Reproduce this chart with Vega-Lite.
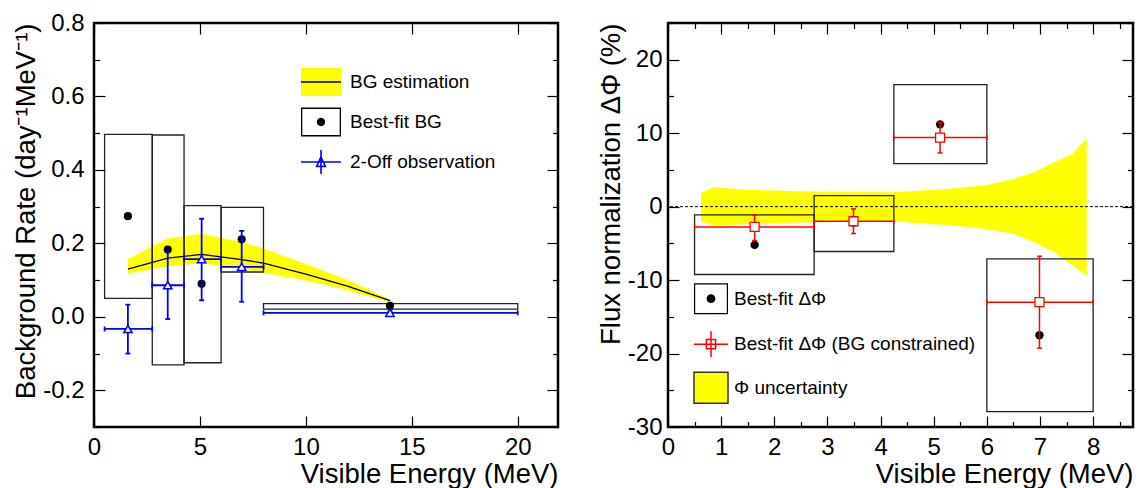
{
  "$schema": "https://vega.github.io/schema/vega-lite/v6.json",
  "background": "white",
  "padding": {"left": 11, "top": 9, "right": 0, "bottom": 0},
  "spacing": 36,
  "config": {
    "font": "Liberation Sans",
    "view": {"stroke": "black", "strokeWidth": 2.5},
    "axis": {
      "domain": false, "grid": false, "labelFont": "Liberation Sans", "labelFontSize": 24, "labelColor": "black",
      "titleFont": "Liberation Sans", "titleFontSize": 27.5, "titleFontWeight": "normal", "titleColor": "black",
      "tickColor": "black", "tickWidth": 1.2, "tickSize": 0, "labelFlush": false, "labelOverlap": false
    },
    "legend": {"labelFont": "Liberation Sans", "labelColor": "black", "labelFontSize": 19, "labelLimit": 500, "padding": 0}
  },
  "datasets": {
    "leftBand": [
      {"E": 1.6, "lo": 0.118, "hi": 0.157, "bg": 0.130},
      {"E": 3.48, "lo": 0.137, "hi": 0.213, "bg": 0.160},
      {"E": 5.08, "lo": 0.146, "hi": 0.226, "bg": 0.170},
      {"E": 6.97, "lo": 0.131, "hi": 0.204, "bg": 0.156},
      {"E": 8.0, "lo": 0.120, "hi": 0.186, "bg": 0.146},
      {"E": 10.0, "lo": 0.099, "hi": 0.143, "bg": 0.116},
      {"E": 12.0, "lo": 0.072, "hi": 0.100, "bg": 0.083},
      {"E": 13.97, "lo": 0.040, "hi": 0.048, "bg": 0.044}
    ],
    "leftBox": [
      {"E": 1.6, "fit": 0.274, "x1": 0.5, "x2": 2.75, "y1": 0.050, "y2": 0.497},
      {"E": 3.48, "fit": 0.183, "x1": 2.75, "x2": 4.25, "y1": -0.131, "y2": 0.495},
      {"E": 5.08, "fit": 0.090, "x1": 4.25, "x2": 6.0, "y1": -0.125, "y2": 0.303},
      {"E": 6.97, "fit": 0.211, "x1": 6.0, "x2": 8.0, "y1": 0.122, "y2": 0.298},
      {"E": 13.97, "fit": 0.030, "x1": 8.0, "x2": 20.0, "y1": 0.021, "y2": 0.036}
    ],
    "twoOff": [
      {"E": 1.6, "v": -0.033, "lo": -0.100, "hi": 0.033, "xlo": 0.5, "xhi": 2.75},
      {"E": 3.48, "v": 0.086, "lo": -0.006, "hi": 0.177, "xlo": 2.75, "xhi": 4.25},
      {"E": 5.08, "v": 0.157, "lo": 0.045, "hi": 0.267, "xlo": 4.25, "xhi": 6.0},
      {"E": 6.97, "v": 0.136, "lo": 0.041, "hi": 0.234, "xlo": 6.0, "xhi": 8.0},
      {"E": 13.97, "v": 0.011, "lo": 0.007, "hi": 0.015, "xlo": 8.0, "xhi": 20.0}
    ],
    "rightBand": [
      {"E": 0.62, "lo": -2.03, "hi": 1.86},
      {"E": 0.85, "lo": -2.57, "hi": 2.64},
      {"E": 1.6, "lo": -2.35, "hi": 2.27},
      {"E": 2.74, "lo": -2.12, "hi": 2.05},
      {"E": 4.25, "lo": -2.03, "hi": 1.96},
      {"E": 5.26, "lo": -2.49, "hi": 2.41},
      {"E": 6.0, "lo": -3.03, "hi": 2.95},
      {"E": 6.51, "lo": -3.71, "hi": 3.77},
      {"E": 6.89, "lo": -4.84, "hi": 4.68},
      {"E": 7.27, "lo": -6.2, "hi": 6.04},
      {"E": 7.61, "lo": -8.01, "hi": 7.17},
      {"E": 7.88, "lo": -9.37, "hi": 9.31}
    ],
    "rightFit": [
      {"E": 1.63, "fit": -5.21, "x1": 0.5, "x2": 2.75, "y1": -9.24, "y2": -1.13, "c": -2.76, "clo": -4.61, "chi": -1.13},
      {"E": 3.49, "fit": -2.16, "x1": 2.75, "x2": 4.25, "y1": -6.11, "y2": 1.51, "c": -1.99, "clo": -3.66, "chi": -0.31},
      {"E": 5.12, "fit": 11.2, "x1": 4.25, "x2": 6.0, "y1": 5.86, "y2": 16.6, "c": 9.40, "clo": 7.31, "chi": 11.48},
      {"E": 6.99, "fit": -17.5, "x1": 6.0, "x2": 8.0, "y1": -27.9, "y2": -7.12, "c": -13.0, "clo": -19.27, "chi": -6.75}
    ],
    "zero": [{"ref": 0}]
  },
  "hconcat": [
    {
      "width": 464,
      "height": 404,
      "resolve": {"axis": {"x": "independent", "y": "independent"}, "scale": {"shape": "independent", "fill": "independent", "stroke": "independent"}},
      "layer": [
        {
          "data": {"name": "leftBand"},
          "mark": {"type": "area", "color": "#ffff00", "opacity": 1},
          "encoding": {
            "x": {"field": "E", "type": "quantitative", "scale": {"domain": [0, 21.9], "nice": false, "zero": false},
              "axis": {"orient": "bottom", "values": [0, 5, 10, 15, 20], "title": "Visible Energy (MeV)", "titleAnchor": "end", "titleAlign": "right", "titlePadding": 1, "labelPadding": 8,
                "encoding": {"ticks": {"y2": {"value": -11}}}}},
            "y": {"field": "lo", "type": "quantitative", "scale": {"domain": [-0.3, 0.8], "nice": false, "zero": false},
              "axis": {"orient": "left", "values": [-0.3, -0.2, -0.1, 0, 0.1, 0.2, 0.3, 0.4, 0.5, 0.6, 0.7, 0.8], "title": "Background Rate (day⁻¹MeV⁻¹)", "titleAnchor": "end", "titlePadding": 2, "labelPadding": 10,
                "labelExpr": "abs(datum.value*5-round(datum.value*5))<0.001 ? (datum.value < -0.001 ? '-' : '') + format(abs(datum.value), '.1f') : ''",
                "encoding": {"ticks": {"x2": {"value": {"expr": "abs(datum.value*5-round(datum.value*5))<0.001 ? 11 : 5.5"}}}}}},
            "y2": {"field": "hi"}
          }
        },
        {
          "data": {"name": "leftBand"},
          "mark": {"type": "line", "color": "black", "strokeWidth": 1.3},
          "encoding": {
            "x": {"field": "E", "type": "quantitative", "axis": null},
            "y": {"field": "bg", "type": "quantitative", "axis": null}
          }
        },
        {
          "data": {"name": "leftBox"},
          "mark": {"type": "rect", "filled": false, "stroke": "#222222", "strokeWidth": 1.3},
          "encoding": {
            "x": {"field": "x1", "type": "quantitative",
              "axis": {"orient": "top", "values": [0, 5, 10, 15, 20], "labels": false, "title": null, "encoding": {"ticks": {"y2": {"value": 11}}}}},
            "x2": {"field": "x2"},
            "y": {"field": "y1", "type": "quantitative",
              "axis": {"orient": "right", "values": [-0.3, -0.2, -0.1, 0, 0.1, 0.2, 0.3, 0.4, 0.5, 0.6, 0.7, 0.8], "labels": false, "title": null,
                "encoding": {"ticks": {"x2": {"value": {"expr": "abs(datum.value*5-round(datum.value*5))<0.001 ? -11 : -5.5"}}}}}},
            "y2": {"field": "y2"}
          }
        },
        {
          "data": {"name": "leftBox"},
          "mark": {"type": "point", "shape": "circle", "filled": true, "color": "black", "size": 66, "opacity": 1},
          "encoding": {
            "x": {"field": "E", "type": "quantitative", "axis": null},
            "y": {"field": "fit", "type": "quantitative", "axis": null}
          }
        },
        {
          "data": {"name": "twoOff"},
          "mark": {"type": "rule", "color": "#0000ff", "strokeWidth": 1.8},
          "encoding": {
            "x": {"field": "E", "type": "quantitative", "axis": null},
            "y": {"field": "lo", "type": "quantitative", "axis": null},
            "y2": {"field": "hi"}
          }
        },
        {
          "data": {"name": "twoOff"},
          "mark": {"type": "rule", "color": "#0000ff", "strokeWidth": 1.8},
          "encoding": {
            "x": {"field": "xlo", "type": "quantitative", "axis": null},
            "x2": {"field": "xhi"},
            "y": {"field": "v", "type": "quantitative", "axis": null}
          }
        },
        {
          "data": {"name": "twoOff"},
          "mark": {"type": "point", "shape": "M-1,0L1,0", "filled": false, "stroke": "#0000ff", "strokeWidth": 1.8, "size": 25, "opacity": 1},
          "encoding": {
            "x": {"field": "E", "type": "quantitative", "axis": null},
            "y": {"field": "lo", "type": "quantitative", "axis": null}
          }
        },
        {
          "data": {"name": "twoOff"},
          "mark": {"type": "point", "shape": "M-1,0L1,0", "filled": false, "stroke": "#0000ff", "strokeWidth": 1.8, "size": 25, "opacity": 1},
          "encoding": {
            "x": {"field": "E", "type": "quantitative", "axis": null},
            "y": {"field": "hi", "type": "quantitative", "axis": null}
          }
        },
        {
          "data": {"name": "twoOff"},
          "mark": {"type": "point", "shape": "M0,-1L0,1", "filled": false, "stroke": "#0000ff", "strokeWidth": 1.8, "size": 25, "opacity": 1},
          "encoding": {
            "x": {"field": "xlo", "type": "quantitative", "axis": null},
            "y": {"field": "v", "type": "quantitative", "axis": null}
          }
        },
        {
          "data": {"name": "twoOff"},
          "mark": {"type": "point", "shape": "M0,-1L0,1", "filled": false, "stroke": "#0000ff", "strokeWidth": 1.8, "size": 25, "opacity": 1},
          "encoding": {
            "x": {"field": "xhi", "type": "quantitative", "axis": null},
            "y": {"field": "v", "type": "quantitative", "axis": null}
          }
        },
        {
          "data": {"name": "twoOff"},
          "mark": {"type": "point", "shape": "triangle-up", "filled": true, "fill": "white", "stroke": "#0000ff", "strokeWidth": 1.5, "size": 70, "opacity": 1},
          "encoding": {
            "x": {"field": "E", "type": "quantitative", "axis": null},
            "y": {"field": "v", "type": "quantitative", "axis": null}
          }
        },
        {
          "data": {"name": "leftBox"},
          "transform": [{"filter": "false"}],
          "mark": {"type": "point", "filled": true, "opacity": 1, "strokeWidth": 1.6},
          "encoding": {
            "shape": {"field": "series", "type": "nominal",
              "scale": {"domain": ["BG estimation", "Best-fit BG", "2-Off observation"],
                "range": ["M-1,-0.7H1V0.7H-1Z",
                  "M-1,-0.72H1V0.72H-1Z M-0.935,-0.655V0.655H0.935V-0.655Z M0.21,0A0.21,0.21,0,1,1,-0.21,0A0.21,0.21,0,1,1,0.21,0Z",
                  "M-1,0H1 M0,-0.6V0.6 M0,-0.25L0.22,0.22H-0.22Z"]},
              "legend": {"orient": "none", "legendX": 206, "legendY": 38, "title": null, "direction": "vertical", "symbolSize": 1600, "symbolStrokeWidth": 1.6, "labelFontSize": 19, "labelOffset": 8, "rowPadding": 1, "padding": 0}},
            "fill": {"field": "series", "type": "nominal",
              "scale": {"domain": ["BG estimation", "Best-fit BG", "2-Off observation"], "range": ["#ffff00", "#000000", "#ffffff"]},
              "legend": {"orient": "none", "legendX": 206, "legendY": 38, "title": null, "direction": "vertical", "symbolSize": 1600, "symbolStrokeWidth": 1.6, "labelFontSize": 19, "labelOffset": 8, "rowPadding": 1, "padding": 0}},
            "stroke": {"field": "series", "type": "nominal",
              "scale": {"domain": ["BG estimation", "Best-fit BG", "2-Off observation"], "range": ["transparent", "transparent", "#0000ff"]},
              "legend": {"orient": "none", "legendX": 206, "legendY": 38, "title": null, "direction": "vertical", "symbolSize": 1600, "symbolStrokeWidth": 1.6, "labelFontSize": 19, "labelOffset": 8, "rowPadding": 1, "padding": 0}}
          }
        },
        {
          "data": {"name": "leftBox"},
          "transform": [{"filter": "false"}],
          "mark": {"type": "point", "filled": false, "opacity": 1, "strokeWidth": 1.3},
          "encoding": {
            "shape": {"field": "seriesLine", "type": "nominal",
              "scale": {"domain": ["BG estimation", "Best-fit BG", "2-Off observation"], "range": ["M-1,0H1", "M-1,0H1", "M-1,0H1"]},
              "legend": {"orient": "none", "legendX": 206, "legendY": 38, "title": null, "direction": "vertical", "symbolSize": 1600, "symbolStrokeWidth": 1.3, "labelFontSize": 19, "labelOffset": 8, "rowPadding": 1, "padding": 0, "labelExpr": "''"}},
            "stroke": {"field": "seriesLine", "type": "nominal",
              "scale": {"domain": ["BG estimation", "Best-fit BG", "2-Off observation"], "range": ["#000000", "transparent", "transparent"]},
              "legend": {"orient": "none", "legendX": 206, "legendY": 38, "title": null, "direction": "vertical", "symbolSize": 1600, "symbolStrokeWidth": 1.3, "labelFontSize": 19, "labelOffset": 8, "rowPadding": 1, "padding": 0, "labelExpr": "''"}}
          }
        }
      ]
    },
    {
      "width": 465,
      "height": 404,
      "resolve": {"axis": {"x": "independent", "y": "independent"}},
      "layer": [
        {
          "data": {"name": "rightBand"},
          "mark": {"type": "area", "color": "#ffff00", "opacity": 1},
          "encoding": {
            "x": {"field": "E", "type": "quantitative", "scale": {"domain": [0, 8.75], "nice": false, "zero": false},
              "axis": {"orient": "bottom", "values": [0, 0.5, 1, 1.5, 2, 2.5, 3, 3.5, 4, 4.5, 5, 5.5, 6, 6.5, 7, 7.5, 8, 8.5], "title": "Visible Energy (MeV)", "titleAnchor": "end", "titleAlign": "right", "titlePadding": 1, "labelPadding": 8,
                "labelExpr": "abs(datum.value-round(datum.value))<0.001 ? format(datum.value, 'd') : ''",
                "encoding": {"ticks": {"y2": {"value": {"expr": "abs(datum.value-round(datum.value))<0.001 ? -11 : -5.5"}}}}}},
            "y": {"field": "lo", "type": "quantitative", "scale": {"domain": [-30, 25], "nice": false, "zero": false},
              "axis": {"orient": "left", "values": [-30, -25, -20, -15, -10, -5, 0, 5, 10, 15, 20, 25], "title": "Flux normalization ΔΦ (%)", "titleAnchor": "end", "titlePadding": 2, "labelPadding": 6,
                "labelExpr": "abs(datum.value/10-round(datum.value/10))<0.001 ? (datum.value < 0 ? '-' : '') + format(abs(datum.value), 'd') : ''",
                "encoding": {"ticks": {"x2": {"value": {"expr": "abs(datum.value/10-round(datum.value/10))<0.001 ? 11 : 5.5"}}}}}},
            "y2": {"field": "hi"}
          }
        },
        {
          "data": {"name": "zero"},
          "mark": {"type": "rule", "color": "black", "strokeWidth": 1, "strokeDash": [3, 2]},
          "encoding": {
            "y": {"field": "ref", "type": "quantitative", "axis": null}
          }
        },
        {
          "data": {"name": "rightFit"},
          "mark": {"type": "rect", "filled": false, "stroke": "#222222", "strokeWidth": 1.3},
          "encoding": {
            "x": {"field": "x1", "type": "quantitative",
              "axis": {"orient": "top", "values": [0, 0.5, 1, 1.5, 2, 2.5, 3, 3.5, 4, 4.5, 5, 5.5, 6, 6.5, 7, 7.5, 8, 8.5], "labels": false, "title": null,
                "encoding": {"ticks": {"y2": {"value": {"expr": "abs(datum.value-round(datum.value))<0.001 ? 11 : 5.5"}}}}}},
            "x2": {"field": "x2"},
            "y": {"field": "y1", "type": "quantitative",
              "axis": {"orient": "right", "values": [-30, -25, -20, -15, -10, -5, 0, 5, 10, 15, 20, 25], "labels": false, "title": null,
                "encoding": {"ticks": {"x2": {"value": {"expr": "abs(datum.value/10-round(datum.value/10))<0.001 ? -11 : -5.5"}}}}}},
            "y2": {"field": "y2"}
          }
        },
        {
          "data": {"name": "rightFit"},
          "mark": {"type": "point", "shape": "circle", "filled": true, "color": "black", "size": 70, "opacity": 1},
          "encoding": {
            "x": {"field": "E", "type": "quantitative", "axis": null},
            "y": {"field": "fit", "type": "quantitative", "axis": null}
          }
        },
        {
          "data": {"name": "rightFit"},
          "mark": {"type": "rule", "color": "#ff0000", "strokeWidth": 1.5},
          "encoding": {
            "x": {"field": "E", "type": "quantitative", "axis": null},
            "y": {"field": "clo", "type": "quantitative", "axis": null},
            "y2": {"field": "chi"}
          }
        },
        {
          "data": {"name": "rightFit"},
          "mark": {"type": "rule", "color": "#ff0000", "strokeWidth": 1.5},
          "encoding": {
            "x": {"field": "x1", "type": "quantitative", "axis": null},
            "x2": {"field": "x2"},
            "y": {"field": "c", "type": "quantitative", "axis": null}
          }
        },
        {
          "data": {"name": "rightFit"},
          "mark": {"type": "point", "shape": "M-1,0L1,0", "filled": false, "stroke": "#ff0000", "strokeWidth": 1.5, "size": 25, "opacity": 1},
          "encoding": {
            "x": {"field": "E", "type": "quantitative", "axis": null},
            "y": {"field": "clo", "type": "quantitative", "axis": null}
          }
        },
        {
          "data": {"name": "rightFit"},
          "mark": {"type": "point", "shape": "M-1,0L1,0", "filled": false, "stroke": "#ff0000", "strokeWidth": 1.5, "size": 25, "opacity": 1},
          "encoding": {
            "x": {"field": "E", "type": "quantitative", "axis": null},
            "y": {"field": "chi", "type": "quantitative", "axis": null}
          }
        },
        {
          "data": {"name": "rightFit"},
          "mark": {"type": "point", "shape": "M0,-1L0,1", "filled": false, "stroke": "#ff0000", "strokeWidth": 1.5, "size": 25, "opacity": 1},
          "encoding": {
            "x": {"field": "x1", "type": "quantitative", "axis": null},
            "y": {"field": "c", "type": "quantitative", "axis": null}
          }
        },
        {
          "data": {"name": "rightFit"},
          "mark": {"type": "point", "shape": "M0,-1L0,1", "filled": false, "stroke": "#ff0000", "strokeWidth": 1.5, "size": 25, "opacity": 1},
          "encoding": {
            "x": {"field": "x2", "type": "quantitative", "axis": null},
            "y": {"field": "c", "type": "quantitative", "axis": null}
          }
        },
        {
          "data": {"name": "rightFit"},
          "mark": {"type": "point", "shape": "square", "filled": true, "fill": "white", "stroke": "#ff0000", "strokeWidth": 1.3, "size": 81, "opacity": 1},
          "encoding": {
            "x": {"field": "E", "type": "quantitative", "axis": null},
            "y": {"field": "c", "type": "quantitative", "axis": null}
          }
        },
        {
          "data": {"name": "rightFit"},
          "transform": [{"filter": "false"}],
          "mark": {"type": "point", "filled": true, "opacity": 1, "strokeWidth": 1.5},
          "encoding": {
            "shape": {"field": "series", "type": "nominal",
              "scale": {"domain": ["Best-fit ΔΦ", "Best-fit ΔΦ (BG constrained)", "Φ uncertainty"],
                "range": ["M-1,-0.91H1V0.91H-1Z M-0.93,-0.84V0.84H0.93V-0.84Z M0.26,0A0.26,0.26,0,1,1,-0.26,0A0.26,0.26,0,1,1,0.26,0Z",
                  "M-1,0H1 M0,-0.76V0.76 M-0.27,-0.27H0.27V0.27H-0.27Z",
                  "M-1,-0.91H1V0.91H-1Z"]},
              "legend": {"orient": "none", "legendX": 599, "legendY": 257.7, "title": null, "direction": "vertical", "symbolSize": 1156, "symbolStrokeWidth": 1.5, "labelFontSize": 19, "labelOffset": 5, "rowPadding": 8.5, "padding": 0}},
            "fill": {"field": "series", "type": "nominal",
              "scale": {"domain": ["Best-fit ΔΦ", "Best-fit ΔΦ (BG constrained)", "Φ uncertainty"], "range": ["#000000", "#ffffff", "#ffff00"]},
              "legend": {"orient": "none", "legendX": 599, "legendY": 257.7, "title": null, "direction": "vertical", "symbolSize": 1156, "symbolStrokeWidth": 1.5, "labelFontSize": 19, "labelOffset": 5, "rowPadding": 8.5, "padding": 0}},
            "stroke": {"field": "series", "type": "nominal",
              "scale": {"domain": ["Best-fit ΔΦ", "Best-fit ΔΦ (BG constrained)", "Φ uncertainty"], "range": ["transparent", "#ff0000", "#333333"]},
              "legend": {"orient": "none", "legendX": 599, "legendY": 257.7, "title": null, "direction": "vertical", "symbolSize": 1156, "symbolStrokeWidth": 1.5, "labelFontSize": 19, "labelOffset": 5, "rowPadding": 8.5, "padding": 0}}
          }
        }
      ]
    }
  ]
}
